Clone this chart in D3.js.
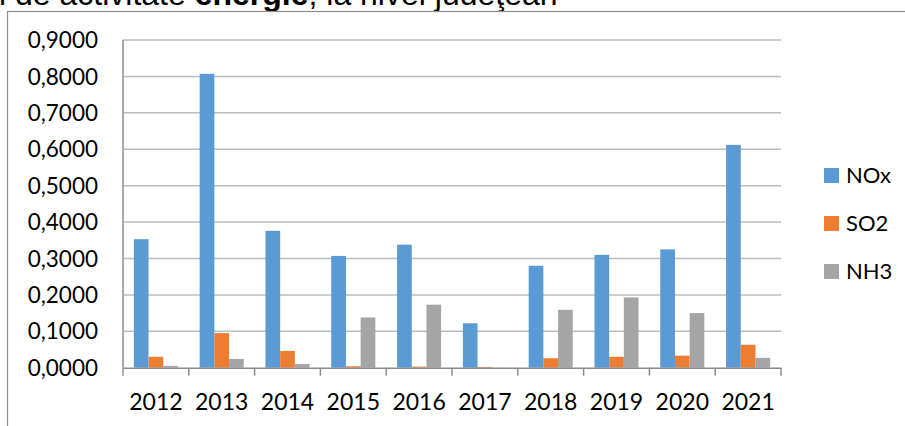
<!DOCTYPE html>
<html>
  <head>
    <title>Emisii energie</title>
    <script type="text/javascript" src="https://cdnjs.cloudflare.com/ajax/libs/d3/7.8.5/d3.min.js"></script>
    <style>
      body { margin: 0; background: #fff; }
    </style>
  </head>
  <body>
  <script>

    var years = ['2012', '2013', '2014', '2015', '2016', '2017', '2018', '2019', '2020', '2021'];
    var seriesNames = ['NOx', 'SO2', 'NH3'];
    var nox = [0.353, 0.807, 0.376, 0.307, 0.338, 0.122, 0.280, 0.310, 0.325, 0.612];
    var so2 = [0.030, 0.095, 0.046, 0.004, 0.003, 0.002, 0.026, 0.030, 0.033, 0.063];
    var nh3 = [0.005, 0.024, 0.010, 0.138, 0.173, 0.0005, 0.159, 0.193, 0.150, 0.027];
    var yTicks = [0, 0.1, 0.2, 0.3, 0.4, 0.5, 0.6, 0.7, 0.8, 0.9];
    var colors = ['#5B9BD5', '#ED7D31', '#A5A5A5'];

    var values = [nox, so2, nh3];
    var font = 'Lato, Carlito, Calibri, sans-serif';

    var svg = d3.select('body')
              .append('svg')
              .attr('width', 905)
              .attr('height', 426);

    // cut-off heading line above the chart
    var head = svg.append('text')
      .attr('x', -1)
      .attr('y', 5)
      .style('font-family', 'Liberation Sans, Arial, sans-serif')
      .style('font-size', '32px')
      .attr('fill', '#000');
    head.append('tspan').text('l de activitate ');
    head.append('tspan').style('font-weight', 'bold').text('energie');
    head.append('tspan').text(', la nivel judeţean');

    // chart border
    svg.append('rect')
      .attr('x', 7.5)
      .attr('y', 11.5)
      .attr('width', 920)
      .attr('height', 440)
      .attr('fill', 'none')
      .attr('stroke', '#8c8c8c')
      .attr('stroke-width', 1.2);

    var plotLeft = 123, plotRight = 781, plotTop = 40, plotBottom = 367.7;

    var y = d3.scaleLinear()
      .domain([0, 0.9])
      .range([plotBottom, plotTop]);

    var x = d3.scaleBand()
      .domain(years)
      .range([plotLeft, plotRight]);

    var inner = d3.scaleBand()
      .domain(seriesNames)
      .range([0, x.bandwidth()])
      .paddingInner(0)
      .paddingOuter(0.74);

    // gridlines
    svg.append('g')
      .selectAll('line')
      .data(yTicks.slice(1))
      .enter()
      .append('line')
      .attr('x1', plotLeft)
      .attr('x2', plotRight)
      .attr('y1', function(d) { return y(d); })
      .attr('y2', function(d) { return y(d); })
      .attr('stroke', '#bcbcbc')
      .attr('stroke-width', 1.5);

    // y labels
    svg.append('g')
      .selectAll('text')
      .data(yTicks)
      .enter()
      .append('text')
      .attr('x', 98)
      .attr('y', function(d) { return y(d); })
      .attr('dy', '0.36em')
      .attr('text-anchor', 'end')
      .style('font-family', font)
      .style('font-size', '22.5px')
      .style('font-variant-numeric', 'tabular-nums')
      .attr('fill', '#000')
      .text(function(d) { return d.toFixed(4).replace('.', ','); });

    // bars
    seriesNames.forEach(function(name, s) {
      svg.append('g')
        .selectAll('rect')
        .data(years)
        .enter()
        .append('rect')
        .attr('x', function(d) { return x(d) + inner(name); })
        .attr('width', inner.bandwidth())
        .attr('y', function(d, i) { return y(values[s][i]); })
        .attr('height', function(d, i) { return plotBottom - y(values[s][i]); })
        .attr('fill', colors[s]);
    });

    // left axis line
    svg.append('line')
      .attr('x1', plotLeft).attr('x2', plotLeft)
      .attr('y1', plotTop).attr('y2', plotBottom)
      .attr('stroke', '#8c8c8c')
      .attr('stroke-width', 1.5);

    // x axis
    var xAxis = d3.axisBottom(x).tickSize(0).tickPadding(26);
    var gx = svg.append('g')
      .attr('transform', 'translate(0,' + plotBottom + ')')
      .call(xAxis);
    gx.select('.domain')
      .attr('stroke', '#8c8c8c')
      .attr('stroke-width', 1.5);
    gx.selectAll('text')
      .style('font-family', font)
      .style('font-size', '23px')
      .attr('fill', '#000');

    var bounds = years.map(function(d) { return x(d); }).concat([plotRight]);
    gx.selectAll('line.sep')
      .data(bounds)
      .enter()
      .append('line')
      .attr('class', 'sep')
      .attr('x1', function(d) { return d; })
      .attr('x2', function(d) { return d; })
      .attr('y1', 0)
      .attr('y2', 8)
      .attr('stroke', '#8c8c8c')
      .attr('stroke-width', 1.5);

    // legend
    var legend = svg.append('g')
      .selectAll('g')
      .data(seriesNames)
      .enter()
      .append('g')
      .attr('transform', function(d, i) { return 'translate(824,' + (168 + i * 48) + ')'; });

    legend.append('rect')
      .attr('width', 15)
      .attr('height', 15)
      .attr('fill', function(d, i) { return colors[i]; });

    legend.append('text')
      .attr('x', 22)
      .attr('y', 7.5)
      .attr('dy', '0.36em')
      .style('font-family', font)
      .style('font-size', '22px')
      .attr('fill', '#000')
      .text(function(d) { return d; });

  </script>
 </body>
</html>
